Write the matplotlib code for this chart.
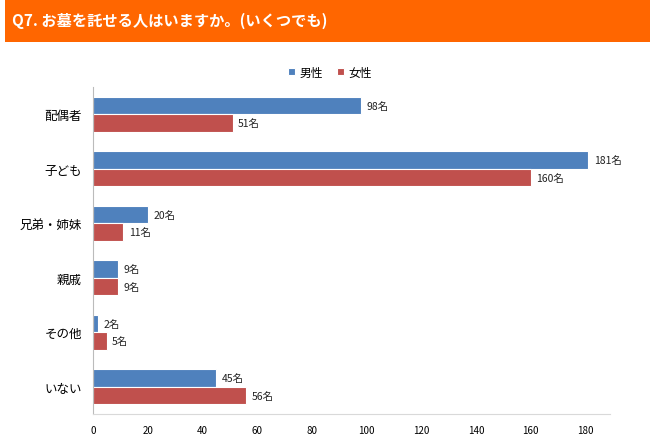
import matplotlib
matplotlib.use("Agg")
import matplotlib.pyplot as plt
from matplotlib.patches import Rectangle
import numpy as np

plt.rcParams['font.family'] = ['Noto Sans CJK JP', 'DejaVu Sans']

categories = ['配偶者', '子ども', '兄弟・姉妹', '親戚', 'その他', 'いない']
male = [98, 181, 20, 9, 2, 45]
female = [51, 160, 11, 9, 5, 56]
series_names = ['男性', '女性']
title = 'Q7. お墓を託せる人はいますか。(いくつでも)'
xticks = [0, 20, 40, 60, 80, 100, 120, 140, 160, 180]

fig = plt.figure(figsize=(6.5, 4.39), dpi=100)
fig.patch.set_facecolor('white')

# header
fig.patches.append(Rectangle((5/650, 1 - 43/439), 645/650, 43/439,
                             transform=fig.transFigure, facecolor='#FF6600',
                             edgecolor='none', zorder=0))
fig.text(12/650, 1 - 21/439, title, color='white', fontsize=11, fontweight='bold',
         va='center', ha='left')

ax = fig.add_axes([93/650, 1 - 415/439, (610 - 93)/650, (415 - 88)/439])
y = np.arange(len(categories))
h = 0.32
b1 = ax.barh(y - h/2, male, height=h, color='#4F81BD', edgecolor='white', linewidth=0.8, label=series_names[0])
b2 = ax.barh(y + h/2, female, height=h, color='#C0504D', edgecolor='white', linewidth=0.8, label=series_names[1])

for bars, vals in ((b1, male), (b2, female)):
    for rect, v in zip(bars, vals):
        ax.annotate(f'{v}名', (rect.get_width(), rect.get_y() + rect.get_height()/2),
                    xytext=(4, 0), textcoords='offset points', va='center', ha='left',
                    fontsize=7.5, color='#222222')

ax.set_ylim(len(categories) - 0.5, -0.5)
ax.set_xlim(0, 189)
ax.set_yticks(y)
ax.set_yticklabels(categories, fontsize=9)
ax.set_xticks(xticks)
ax.set_xticklabels([str(t) for t in xticks], fontsize=7)
ax.tick_params(axis='y', length=0, pad=8)
ax.tick_params(axis='x', length=0, pad=8)
for s in ['top', 'right']:
    ax.spines[s].set_visible(False)
ax.spines['left'].set_color('#BBBBBB')
ax.spines['bottom'].set_color('#D9D9D9')

fig.legend(handles=[b1, b2], labels=series_names, loc='center', bbox_to_anchor=(330/650, 1 - 73/439),
           ncol=2, frameon=False, fontsize=8.5, handlelength=0.6, handleheight=0.6,
           handletextpad=0.4, columnspacing=1.2)

fig.savefig('out.png', dpi=100)
